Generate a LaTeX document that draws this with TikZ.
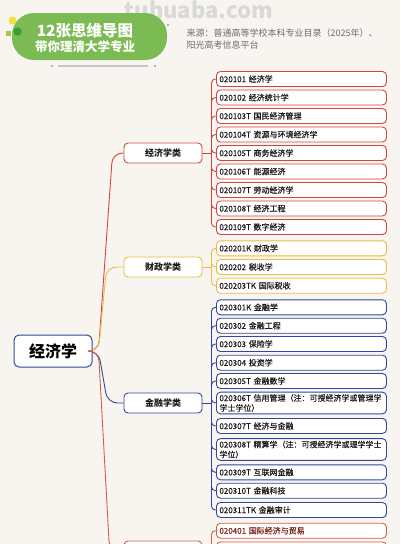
\documentclass[tikz,border=0pt]{standalone}
\usepackage{fontspec}
\setmainfont{Noto Sans CJK SC}
\newfontfamily\leaffont{Noto Sans CJK SC}[FakeBold=0.45]
\usetikzlibrary{positioning}

\definecolor{bg}{RGB}{248,245,241}
\definecolor{jred}{RGB}{212,70,60}
\definecolor{jyellow}{RGB}{230,190,70}
\definecolor{jblue}{RGB}{50,70,158}
\definecolor{jsalmon}{RGB}{210,94,74}
\definecolor{jgreen}{RGB}{124,187,84}
\definecolor{ink}{RGB}{30,26,26}
\definecolor{maroon}{RGB}{125,35,25}

\begin{document}
\begin{tikzpicture}[x=1pt, y=-1pt,
    leaf/.style = {draw, rounded corners=4pt, fill=white, line width=0.9pt, text width=164pt, inner xsep=3pt, inner ysep=2pt, minimum height=15pt, align=left, anchor=west, text=ink, font=\leaffont\fontsize{8}{10}\selectfont},
    cat/.style = {draw, rounded corners=4pt, fill=white, line width=0.9pt, minimum width=78pt, minimum height=20pt, text=ink, font=\bfseries\fontsize{9}{11}\selectfont},
    wire/.style = {line width=0.9pt, rounded corners=4pt}]

    \useasboundingbox (0,0) rectangle (400,544);
    \fill[bg] (0,0) rectangle (400,544);
    \clip (0,0) rectangle (400,544);

    \node (wm) at (199,10) [text=gray!30, font=\bfseries\fontsize{22}{22}\selectfont] {tuhuaba.com};

    \fill[jgreen, rounded corners=22pt] (12,13) rectangle (167,60);
    \fill[color={rgb,255:red,240;green,226;blue,60}] (12.5,20.5) circle (4);
    \fill[color={rgb,255:red,170;green,200;blue,60}] (6,31) rectangle (11,36);
    \fill[color={rgb,255:red,56;green,156;blue,60}] (17.5,31.5) circle (4.2);
    \draw[gray!45, line width=1.5pt] (58,66) -- (148,66);
    \fill[gray!60] (52,66) circle (1.3) (155,66) circle (1.3) (168,25) circle (1.3);

    \node (title) at (85,31) [text=white, font=\bfseries\fontsize{15.5}{17}\selectfont] {12张思维导图};
    \node (sub) at (85,47) [text=white, font=\bfseries\fontsize{12.5}{14}\selectfont] {带你理清大学专业};
    \node (src) at (183,25) [anchor=north west, align=left, text=gray!85!black, font=\fontsize{9}{12}\selectfont] {来源：普通高等学校本科专业目录（2025年）、\\阳光高考信息平台};

    \node (root) at (53,351) [draw=jblue, line width=1pt, rounded corners=5pt, fill=white, minimum width=78pt, minimum height=32pt, text=black, font=\bfseries\fontsize{16}{18}\selectfont] {经济学};

    \node (cat1) [cat, draw=jred] at (163,153) {经济学类};
    \node (cat2) [cat, draw=jyellow] at (163,267) {财政学类};
    \node (cat3) [cat, draw=jblue] at (163,403) {金融学类};
    \node (cat4) [cat, draw=jsalmon] at (163,551) {};

    \foreach \t [count=\i] in {020101 经济学, 020102 经济统计学, 020103T 国民经济管理, 020104T 资源与环境经济学, 020105T 商务经济学, 020106T 能源经济, 020107T 劳动经济学, 020108T 经济工程, 020109T 数字经济}
    {
      \pgfmathsetmacro{\y}{79 + 18.5 * (\i - 1)}
      \node (r\i) [leaf, draw=jred] at (216, \y) {\t};
    }

    \foreach \t [count=\i] in {020201K 财政学, 020202 税收学, 020203TK 国际税收}
    {
      \pgfmathsetmacro{\y}{248.3 + 18.7 * (\i - 1)}
      \node (y\i) [leaf, draw=jyellow] at (216, \y) {\t};
    }

    \foreach \y/\t [count=\i] in {307.3/{020301K 金融学}, 325.7/{020302 金融工程}, 344/{020303 保险学}, 362.7/{020304 投资学}, 381/{020305T 金融数学}, 403/{020306T 信用管理（注：可授经济学或管理学\\学士学位）}, 426/{020307T 经济与金融}, 449.5/{020308T 精算学（注：可授经济学或理学学士\\学位）}, 472.3/{020309T 互联网金融}, 490.7/{020310T 金融科技}, 510/{020311TK 金融审计}}
    {
      \node (b\i) [leaf, draw=jblue] at (216, \y) {\t};
    }

    \node (s1) [leaf, draw=jsalmon, text=maroon] at (216, 530.7) {020401 国际经济与贸易};
    \node (s2) [leaf, draw=jsalmon] at (216, 549.5) {};

    \foreach \k/\col/\dx in {1/jred/11, 2/jyellow/17, 3/jblue/16, 4/jsalmon/14}
    {
      \draw [\col, line width=0.9pt, rounded corners=10pt] (root.east) -- ++(6,0) -- ([xshift=-\dx pt]cat\k.west) -- (cat\k.west);
      \coordinate (bus\k) at ([xshift=9pt]cat\k.east);
      \draw [\col, line width=0.9pt] (cat\k.east) -- (bus\k);
    }

    \foreach \i in {1,...,9}
    {
      \draw [wire, jred] (bus1) |- (r\i.west);
    }

    \foreach \i in {1,...,3}
    {
      \draw [wire, jyellow] (bus2) |- (y\i.west);
    }

    \foreach \i in {1,...,11}
    {
      \draw [wire, jblue] (bus3) |- (b\i.west);
    }

    \foreach \i in {1,...,2}
    {
      \draw [wire, jsalmon] (bus4) |- (s\i.west);
    }
  \end{tikzpicture}
\end{document}
